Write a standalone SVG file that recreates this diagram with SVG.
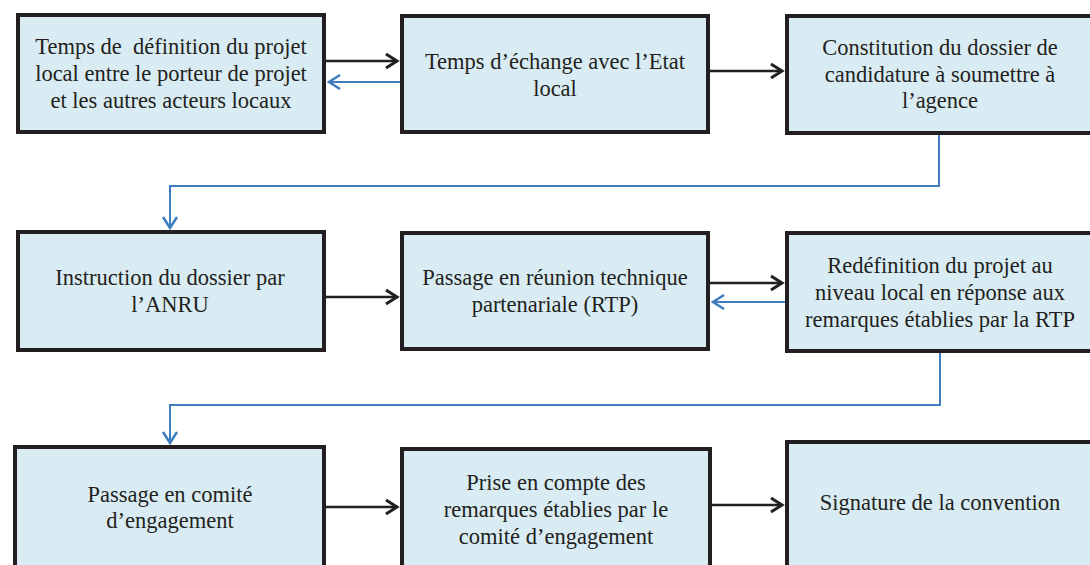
<svg xmlns="http://www.w3.org/2000/svg" width="1090" height="565" viewBox="0 0 1090 565" font-family="Liberation Serif, Times New Roman, serif">
<style>
.box{fill:#d9ecf3;stroke:#231f20;stroke-width:4}
.t{font-size:22.5px;fill:#231f20;text-anchor:middle}
.k{fill:none;stroke:#231f20;stroke-width:2.5}
.b{fill:none;stroke:#3d7dc0;stroke-width:2}
</style>
<defs>
<marker id="ak" markerUnits="userSpaceOnUse" markerWidth="16" markerHeight="20" refX="13" refY="10" orient="auto" viewBox="0 0 16 20">
<path d="M2,3 L13,10 L2,17" fill="none" stroke="#231f20" stroke-width="3"/>
</marker>
<marker id="ab" markerUnits="userSpaceOnUse" markerWidth="16" markerHeight="20" refX="13" refY="10" orient="auto" viewBox="0 0 16 20">
<path d="M2,3 L13,10 L2,17" fill="none" stroke="#3d7dc0" stroke-width="2.5"/>
</marker>
</defs>
<g id="connectors">
<path class="k" d="M326,61 L397,61" marker-end="url(#ak)"/>
<path class="b" d="M400,82 L329,82" marker-end="url(#ab)"/>
<path class="k" d="M710,71 L782,71" marker-end="url(#ak)"/>
<path class="b" d="M939,134 L939,186 L170,186 L170,228" marker-end="url(#ab)"/>
<path class="k" d="M326,297 L397,297" marker-end="url(#ak)"/>
<path class="k" d="M710,283 L782,283" marker-end="url(#ak)"/>
<path class="b" d="M785,302 L713,302" marker-end="url(#ab)"/>
<path class="b" d="M940,352 L940,405 L170,405 L170,443" marker-end="url(#ab)"/>
<path class="k" d="M326,507 L397,507" marker-end="url(#ak)"/>
<path class="k" d="M712,505 L782,505" marker-end="url(#ak)"/>
</g>
<g id="n1"><rect class="box" x="18" y="15" width="306" height="117"/>
<text class="t" x="171" y="54" xml:space="preserve">Temps de  définition du projet</text>
<text class="t" x="171" y="81">local entre le porteur de projet</text>
<text class="t" x="171" y="108">et les autres acteurs locaux</text></g>
<g id="n2"><rect class="box" x="402" y="16" width="306" height="116"/>
<text class="t" x="555" y="69">Temps d’échange avec l’Etat</text>
<text class="t" x="555" y="96">local</text></g>
<g id="n3"><rect class="box" x="787" y="16" width="306" height="117"/>
<text class="t" x="940" y="55">Constitution du dossier de</text>
<text class="t" x="940" y="82">candidature à soumettre à</text>
<text class="t" x="940" y="108">l’agence</text></g>
<g id="n4"><rect class="box" x="18" y="232" width="306" height="118"/>
<text class="t" x="170" y="285">Instruction du dossier par</text>
<text class="t" x="170" y="312">l’ANRU</text></g>
<g id="n5"><rect class="box" x="402" y="233" width="306" height="116"/>
<text class="t" x="555" y="285">Passage en réunion technique</text>
<text class="t" x="555" y="312">partenariale (RTP)</text></g>
<g id="n6"><rect class="box" x="787" y="233" width="306" height="118"/>
<text class="t" x="940" y="273">Redéfinition du projet au</text>
<text class="t" x="940" y="300">niveau local en réponse aux</text>
<text class="t" x="940" y="327">remarques établies par la RTP</text></g>
<g id="n7"><rect class="box" x="15" y="447" width="309" height="125"/>
<text class="t" x="170" y="502">Passage en comité</text>
<text class="t" x="170" y="528">d’engagement</text></g>
<g id="n8"><rect class="box" x="402" y="449" width="308" height="123"/>
<text class="t" x="556" y="490">Prise en compte des</text>
<text class="t" x="556" y="517">remarques établies par le</text>
<text class="t" x="556" y="544">comité d’engagement</text></g>
<g id="n9"><rect class="box" x="787" y="442" width="306" height="130"/>
<text class="t" x="940" y="510">Signature de la convention</text></g>
</svg>
